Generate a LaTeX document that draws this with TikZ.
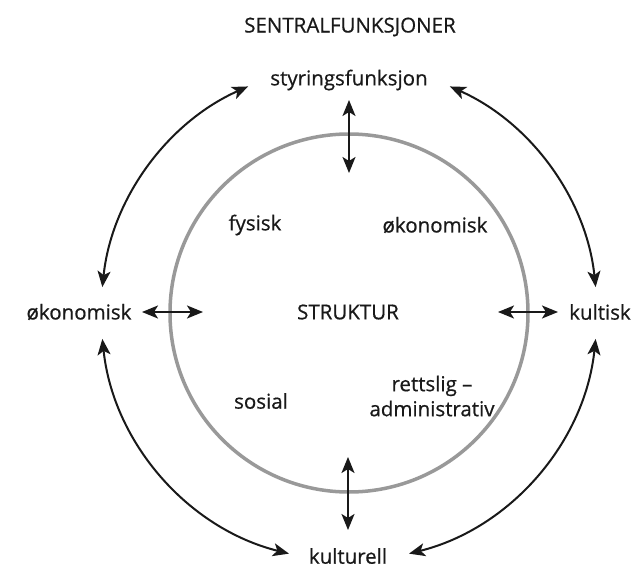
\documentclass[tikz,border=0pt]{standalone}
\usepackage{fontspec}
\setmainfont{Open Sans}[FakeBold=0.6]
\usetikzlibrary{arrows.meta}

\tikzset{
  lbl/.style={font=\fontsize{20.5}{25}\selectfont, text=black!90, inner sep=1pt},
  pil/.style={{Stealth[length=16pt,width=13pt,inset=4pt]}-{Stealth[length=16pt,width=13pt,inset=4pt]},
    line width=2pt, draw=black!90},
}

\begin{document}
\begin{tikzpicture}[x=1pt,y=-1pt]
  \useasboundingbox (0,0) rectangle (633,578);
  % the ring
  \node[circle, draw=black!40, line width=3.5pt, minimum size=358pt, inner sep=0pt] (ring) at (349,313) {};

  % outer functions
  \node[lbl] (tittel) at (350,27) {SENTRALFUNKSJONER};
  \node[lbl] (styr) at (349,80) {styringsfunksjon};
  \node[lbl] (okonV) at (79,312) {økonomisk};
  \node[lbl] (kult) at (600,312) {kultisk};
  \node[lbl] (kultur) at (348,556) {kulturell};

  % inside the ring
  \node[lbl] (fys) at (255,225) {fysisk};
  \node[lbl] (okonI) at (435,225) {økonomisk};
  \node[lbl] (strukt) at (348,312) {STRUKTUR};
  \node[lbl] (sos) at (261,401) {sosial};
  \node[lbl, align=center] (retts) at (432,396) {rettslig –\\administrativ};

  % ends of the short arrows
  \coordinate (topA) at (349,100);
  \coordinate (topB) at (349,173);
  \coordinate (botA) at (348,457);
  \coordinate (botB) at (348,530);
  \coordinate (venA) at (142,312);
  \coordinate (venB) at (203,312);
  \coordinate (hoyA) at (498,312);
  \coordinate (hoyB) at (558,312);

  \draw[pil] (topA) -- (topB);
  \draw[pil] (botA) -- (botB);
  \draw[pil] (venA) -- (venB);
  \draw[pil] (hoyA) -- (hoyB);

  % ends of the outer arcs
  \path (ring.center) ++(-174:248) coordinate (nwA);
  \path (ring.center) ++(-66:248) coordinate (neA);
  \path (ring.center) ++(174:248) coordinate (swA);
  \path (ring.center) ++(76:248) coordinate (seA);

  \draw[pil] (nwA) arc[start angle=-174, end angle=-114, radius=248];
  \draw[pil] (neA) arc[start angle=-66, end angle=-6, radius=248];
  \draw[pil] (swA) arc[start angle=174, end angle=104, radius=248];
  \draw[pil] (seA) arc[start angle=76, end angle=6, radius=248];
\end{tikzpicture}
\end{document}
